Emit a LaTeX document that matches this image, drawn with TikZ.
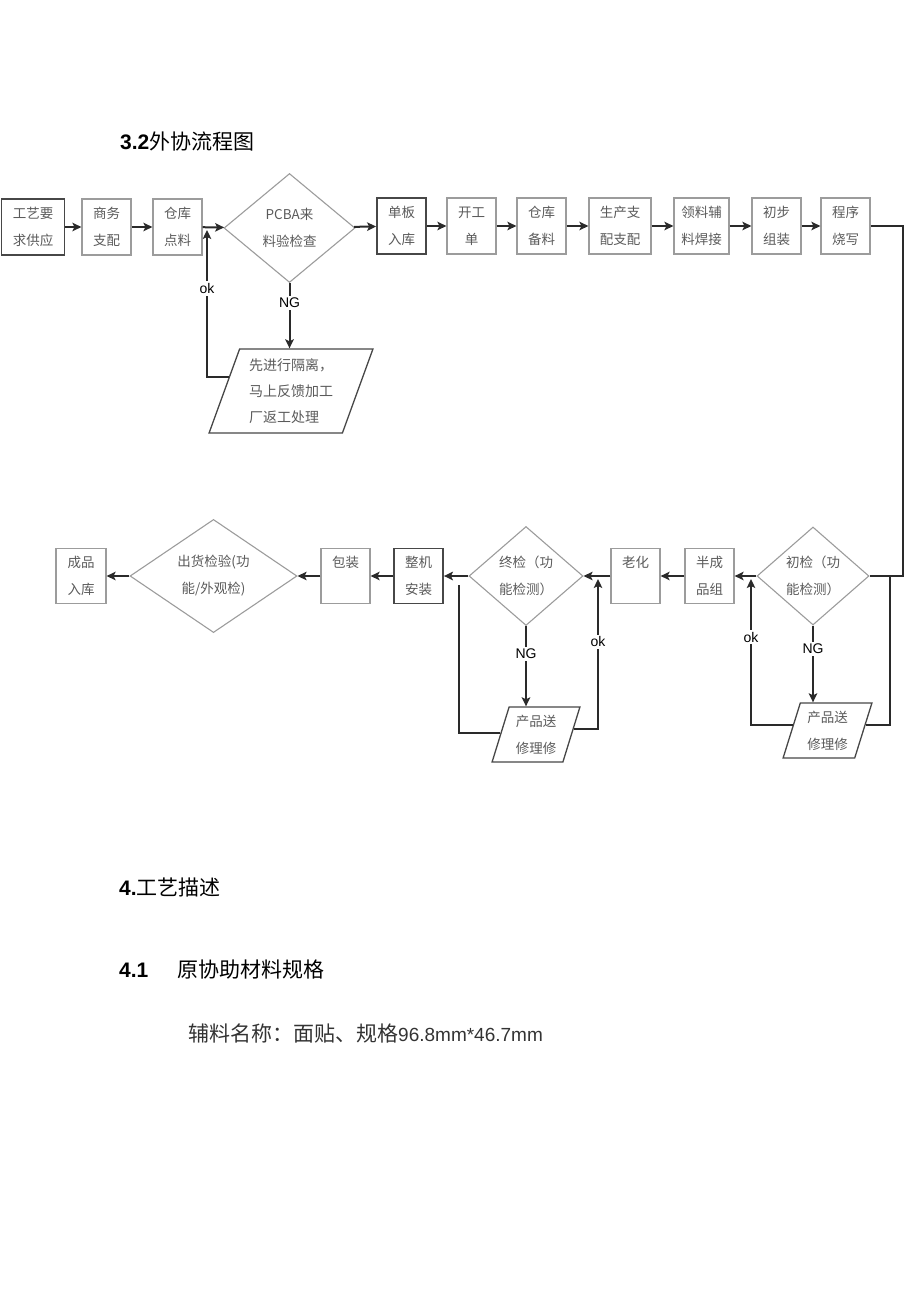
\documentclass[tikz,border=0pt]{standalone}
\usepackage{fontspec}
\setmainfont{Liberation Sans}
\newfontfamily\cjk{Noto Sans CJK SC}
\usetikzlibrary{shapes.geometric,arrows.meta,calc}

\definecolor{boxgray}{HTML}{9C9C9C}
\definecolor{edgedark}{HTML}{474747}
\definecolor{txtgray}{HTML}{5A5A5A}
\definecolor{linedark}{HTML}{2A2A2A}

\tikzset{
  box/.style={draw=boxgray, line width=1.2pt, minimum width=49pt, minimum height=56pt,
    inner sep=1pt, text=txtgray, align=center, font=\cjk\fontsize{13.5}{27}\selectfont},
  darkbox/.style={box, draw=edgedark, line width=1.8pt},
  check/.style={diamond, draw=boxgray, line width=1.1pt, inner sep=0pt, text=txtgray,
    align=center, font=\cjk\fontsize{13.5}{27}\selectfont},
  repair/.style={trapezium, trapezium left angle=72, trapezium right angle=108,
    trapezium stretches, draw=edgedark, line width=1.3pt, inner sep=0pt, text=txtgray,
    align=left, font=\cjk\fontsize{13.5}{27}\selectfont},
  flow/.style={draw=linedark, line width=2pt, -{Stealth[length=9pt, width=8.5pt, inset=2pt]}},
  back/.style={draw=linedark, line width=1.6pt},
  tag/.style={fill=white, inner sep=2pt, font=\fontsize{14}{16}\selectfont, text=black},
  heading/.style={anchor=west, inner sep=0pt, font=\fontsize{21}{24}\selectfont}
}

\begin{document}
\begin{tikzpicture}[x=1pt, y=-1pt]
\useasboundingbox (0,0) rectangle (920,1301);

% title
\node[heading] (title) at (120,142) {\textbf{3.2}{\cjk 外协流程图}};

% first row, left to right
\node[darkbox, minimum width=63pt] (req) at (33,227) {工艺要\\求供应};
\node[box] (biz) at (106.5,227) {商务\\支配};
\node[box] (pick) at (177.5,227) {仓库\\点料};
\node[check, minimum width=131pt, minimum height=109pt] (pcba) at (289.5,228) {PCBA来\\料验检查};
\node[darkbox] (board) at (401.5,226) {单板\\入库};
\node[box] (order) at (471.5,226) {开工\\单};
\node[box] (stock) at (541.5,226) {仓库\\备料};
\node[box, minimum width=62pt] (plan) at (620,226) {生产支\\配支配};
\node[box, minimum width=55pt] (weld) at (701.5,226) {领料辅\\料焊接};
\node[box] (asm) at (776.5,226) {初步\\组装};
\node[box] (burn) at (845.5,226) {程序\\烧写};

% incoming check fails
\node[repair, trapezium left angle=69, trapezium right angle=111,
  minimum width=164pt, minimum height=84pt,
  font=\cjk\fontsize{14}{26}\selectfont] (fix0) at (291,391) {先进行隔离，\\马上反馈加工\\厂返工处理};

% second row, right to left
\node[check, minimum width=112pt, minimum height=98pt] (first) at (813,576) {初检（功\\能检测）};
\node[box, minimum height=55pt] (semi) at (709.5,576) {半成\\品组};
\node[box, minimum height=55pt] (aging) at (635.5,576) {老化\\\phantom{老化}};
\node[check, minimum width=114pt, minimum height=99pt] (final) at (526,576) {终检（功\\能检测）};
\node[darkbox, minimum height=55pt] (whole) at (418.5,576) {整机\\安装};
\node[box, minimum height=55pt] (pack) at (345.5,576) {包装\\\phantom{包装}};
\node[check, minimum width=167pt, minimum height=112pt] (ship) at (213.5,576) {出货检验(功\\能/外观检)};
\node[box, minimum height=55pt, minimum width=50pt] (done) at (81,576) {成品\\入库};

% repair boxes
\node[repair, minimum width=89pt, minimum height=55pt] (fix1) at (827.5,730.5) {产品送\\修理修};
\node[repair, minimum width=88pt, minimum height=55pt] (fix2) at (536,734.5) {产品送\\修理修};

% main flow
\foreach \a/\b in {req/biz, biz/pick, pick/pcba, pcba/board, board/order, order/stock,
    stock/plan, plan/weld, weld/asm, asm/burn}
  \draw[flow] (\a) -- (\b);
\coordinate (turn) at (903,576);
\draw[back] (burn.east) -| (turn) -- (first.east);
\foreach \a/\b in {first/semi, semi/aging, aging/final, final/whole, whole/pack,
    pack/ship, ship/done}
  \draw[flow] (\a) -- (\b);

% NG / ok loops
\draw[flow] (pcba.south) -- node[tag, pos=0.3] {NG} (pcba.south |- fix0.north);
\coordinate (okin0) at (207,230);
\draw[flow] ($(fix0.top left corner)!0.33!(fix0.bottom left corner)$) -| node[tag, pos=0.8] {ok} (okin0);

\draw[flow] (first.south) -- node[tag, pos=0.3] {NG} (first.south |- fix1.north);
\coordinate (okin1) at (751,579);
\draw[flow] ($(fix1.top left corner)!0.4!(fix1.bottom left corner)$) -| node[tag, pos=0.8] {ok} (okin1);
\coordinate (join1) at (890,576);
\draw[back] ($(fix1.top right corner)!0.4!(fix1.bottom right corner)$) -| (join1);

\draw[flow] (final.south) -- node[tag, pos=0.35] {NG} (final.south |- fix2.north);
\coordinate (okin2) at (598,579);
\draw[flow] ($(fix2.top right corner)!0.4!(fix2.bottom right corner)$) -| node[tag, pos=0.79] {ok} (okin2);
\coordinate (join2) at (459,585);
\draw[back] ($(fix2.top left corner)!0.47!(fix2.bottom left corner)$) -| (join2);

% text below
\node[heading] (sec4) at (119,887) {\textbf{4.}{\cjk 工艺描述}};
\node[heading] (sec41) at (119,970) {\textbf{4.1}};
\node[heading] (sec41t) at (177,970) {\cjk 原协助材料规格};
\node[heading, text=black!80] (spec) at (188,1033) {{\cjk 辅料名称：面贴、规格}\fontsize{19}{24}\selectfont 96.8mm*46.7mm};

\end{tikzpicture}
\end{document}
